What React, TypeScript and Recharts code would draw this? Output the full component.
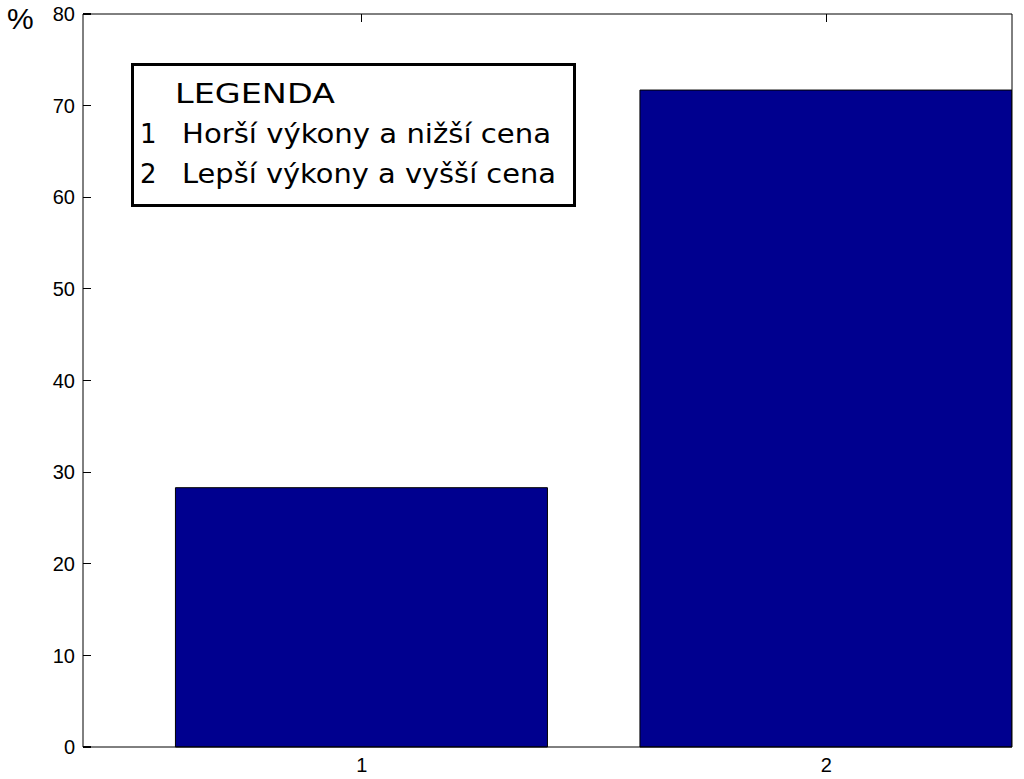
import { BarChart, Bar, XAxis, YAxis } from "recharts";

// bar positions (1, 2) and their shares in percent
const categories = [1, 2];
const shares = [28.3, 71.7];
const yTicks = [0, 10, 20, 30, 40, 50, 60, 70, 80];

const legendTitle = "LEGENDA";
const legendNumbers = ["1", "2"];
const legendLabels = ["Horší výkony a nižší cena", "Lepší výkony a vyšší cena"];

const data = categories.map((x, i) => ({ x, value: shares[i] }));

const FONT = "'Liberation Sans', Arial, Helvetica, sans-serif";
const LEGEND_FONT = "'DejaVu Sans', 'Liberation Sans', sans-serif";

// y ticks point inward, like the original plot
function LeftTick(props: any) {
  const x = Number(props.x);
  const y = Number(props.y);
  return (
    <g>
      <path d={`M${x + 8},${y}H${x + 16}`} stroke="#000" strokeWidth={1.2} shapeRendering="crispEdges" />
      <text x={x} y={y} dy="0.36em" textAnchor="end" fontSize={20} fontFamily={FONT} fill="#000">
        {props.payload.value}
      </text>
    </g>
  );
}

function TopTick(props: any) {
  const x = Number(props.x);
  const y = Number(props.y);
  return <path d={`M${x},${y}V${y + 8}`} stroke="#000" strokeWidth={1} shapeRendering="crispEdges" />;
}

export default function App() {
  return (
    <div style={{ position: "absolute", left: 0, top: 0, width: 1024, height: 779, background: "#fff" }}>
      <BarChart width={1024} height={779} data={data} margin={{ top: 13, right: 11, bottom: 0, left: 0 }}>
        <XAxis
          dataKey="x"
          type="number"
          domain={[0.4, 2.4]}
          ticks={categories}
          allowDataOverflow
          height={32}
          tickLine={false}
          tickSize={0}
          tickMargin={11}
          axisLine={{ stroke: "#000" }}
          tick={{ fontSize: 20, fontFamily: FONT, fill: "#000" }}
        />
        <XAxis
          xAxisId="top"
          dataKey="x"
          type="number"
          orientation="top"
          domain={[0.4, 2.4]}
          ticks={categories}
          allowDataOverflow
          height={1}
          tickLine={false}
          tickSize={0}
          tickMargin={0}
          axisLine={{ stroke: "#000" }}
          tick={<TopTick />}
        />
        <YAxis
          type="number"
          domain={[0, 80]}
          ticks={yTicks}
          width={83}
          tickLine={false}
          tickSize={0}
          tickMargin={8}
          axisLine={{ stroke: "#000" }}
          tick={<LeftTick />}
        />
        <YAxis
          yAxisId="right"
          orientation="right"
          type="number"
          domain={[0, 80]}
          width={1}
          tick={false}
          tickLine={false}
          axisLine={{ stroke: "#000" }}
        />
        <Bar dataKey="value" barSize={372} fill="#00008F" stroke="#000" strokeWidth={1} isAnimationActive={false} />
      </BarChart>
      <svg
        width={1024}
        height={779}
        style={{ position: "absolute", left: 0, top: 0, pointerEvents: "none" }}
      >
        <text x={7} y={29} fontSize={30} fontFamily={FONT} fill="#000">
          %
        </text>
        <rect x={132.5} y={64.5} width={442} height={141} fill="#fff" stroke="#000" strokeWidth={3} />
        <text x={175} y={103} fontSize={26} fontFamily={LEGEND_FONT} fill="#000" textLength={160} lengthAdjust="spacingAndGlyphs">
          {legendTitle}
        </text>
        {legendLabels.map((label, i) => (
          <g key={label}>
            <text x={140} y={143 + i * 40} fontSize={26} fontFamily={LEGEND_FONT} fill="#000">
              {legendNumbers[i]}
            </text>
            <text
              x={182}
              y={143 + i * 40}
              fontSize={26}
              fontFamily={LEGEND_FONT}
              fill="#000"
              textLength={i === 0 ? 369 : 374}
              lengthAdjust="spacingAndGlyphs"
            >
              {label}
            </text>
          </g>
        ))}
      </svg>
    </div>
  );
}
